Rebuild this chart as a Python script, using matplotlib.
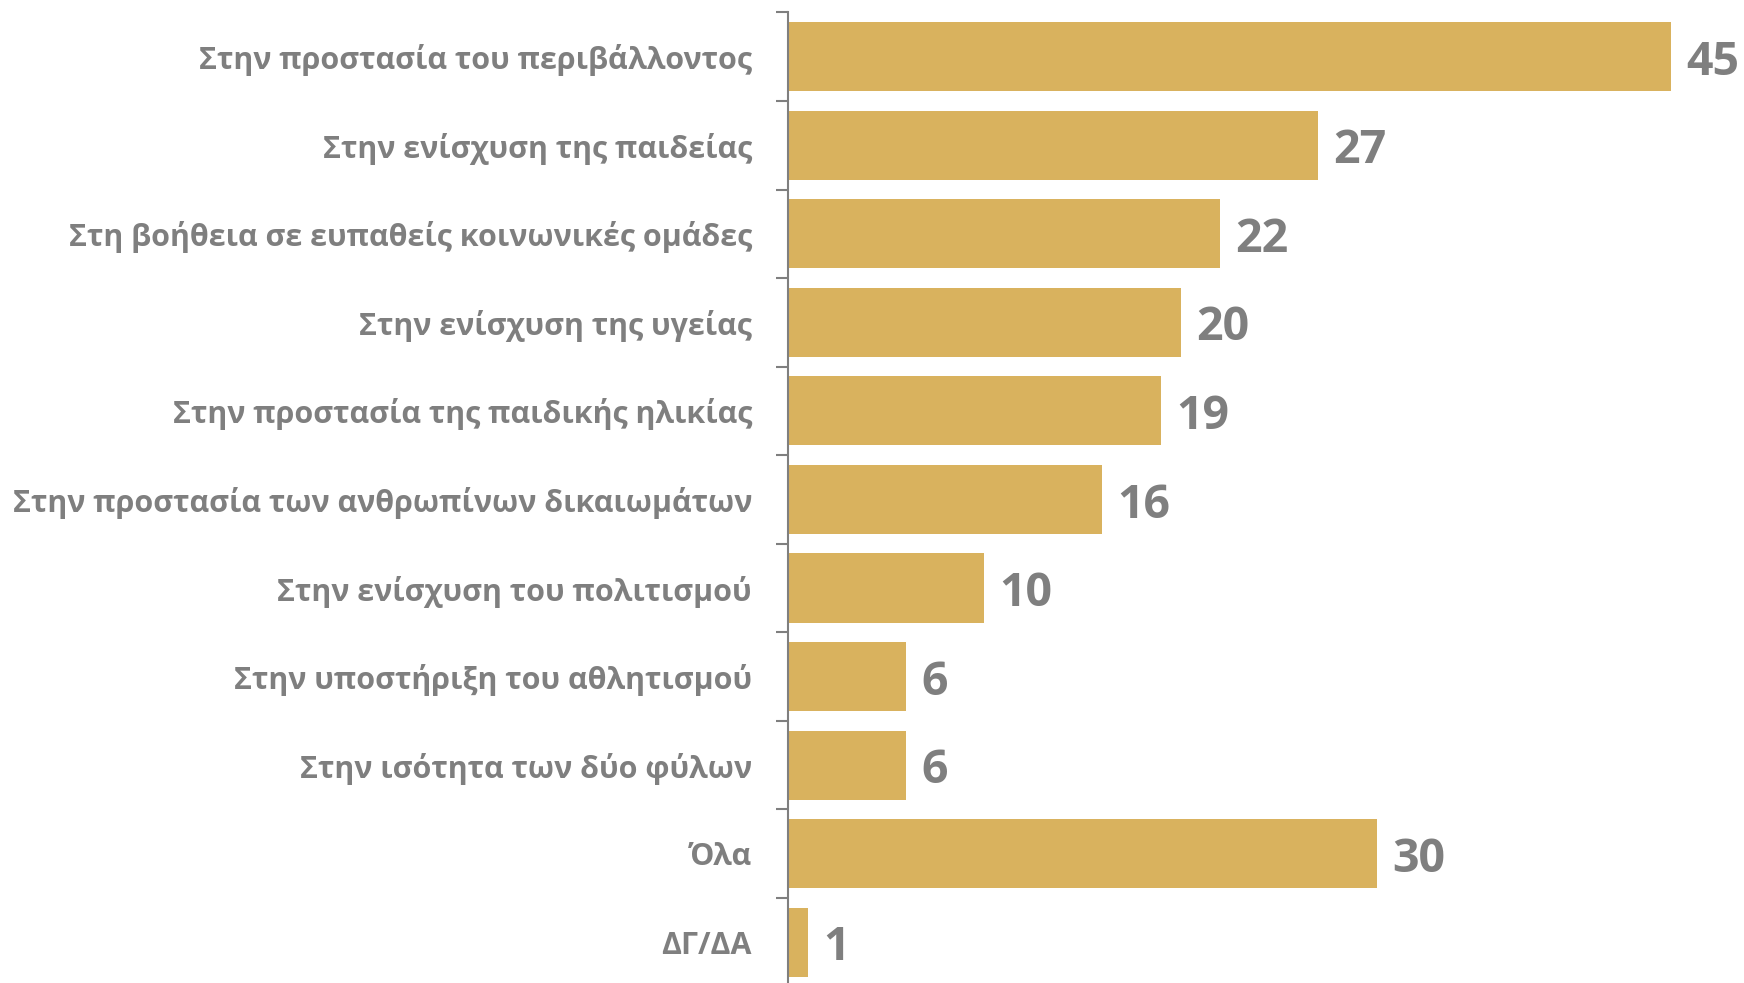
import matplotlib
matplotlib.use('Agg')
import matplotlib.pyplot as plt

categories = [
    'Στην προστασία του περιβάλλοντος',
    'Στην ενίσχυση της παιδείας',
    'Στη βοήθεια σε ευπαθείς κοινωνικές ομάδες',
    'Στην ενίσχυση της υγείας',
    'Στην προστασία της παιδικής ηλικίας',
    'Στην προστασία των ανθρωπίνων δικαιωμάτων',
    'Στην ενίσχυση του πολιτισμού',
    'Στην υποστήριξη του αθλητισμού',
    'Στην ισότητα των δύο φύλων',
    'Όλα',
    'ΔΓ/ΔΑ',
]
values = [45, 27, 22, 20, 19, 16, 10, 6, 6, 30, 1]

gray = '#7f7f7f'
gold = '#d9b25e'

plt.rcParams['font.family'] = ['Open Sans', 'DejaVu Sans']

fig = plt.figure(figsize=(17.44, 9.83), dpi=100)
ax = fig.add_axes([788/1744, -0.0036, 1 - 788/1744, 0.991])

pos = list(range(len(categories)))
ax.barh(pos, values, height=0.78, color=gold)
ax.set_ylim(len(categories) - 0.5, -0.5)
ax.set_xlim(0, 48.7)

# value labels, nudged a bit below the bar centre like the original
for p, v in zip(pos, values):
    ax.annotate(str(v), (v, p), xytext=(11, -4), textcoords='offset points',
                va='center', ha='left', fontsize=33.5, fontweight='bold', color=gray)

ax.set_yticks(pos)
ax.set_yticklabels(categories, fontsize=21.9, fontweight='bold', color=gray)
ax.tick_params(axis='y', which='major', length=0, pad=26)
ax.set_yticks([p - 0.5 for p in pos] + [len(pos) - 0.5], minor=True)
ax.tick_params(axis='y', which='minor', length=9, width=1.5, color=gray, direction='out')
ax.set_xticks([])

for s in ['top', 'right', 'bottom']:
    ax.spines[s].set_visible(False)
ax.spines['left'].set_color(gray)
ax.spines['left'].set_linewidth(1.5)

fig.savefig('out.png', dpi=100)
